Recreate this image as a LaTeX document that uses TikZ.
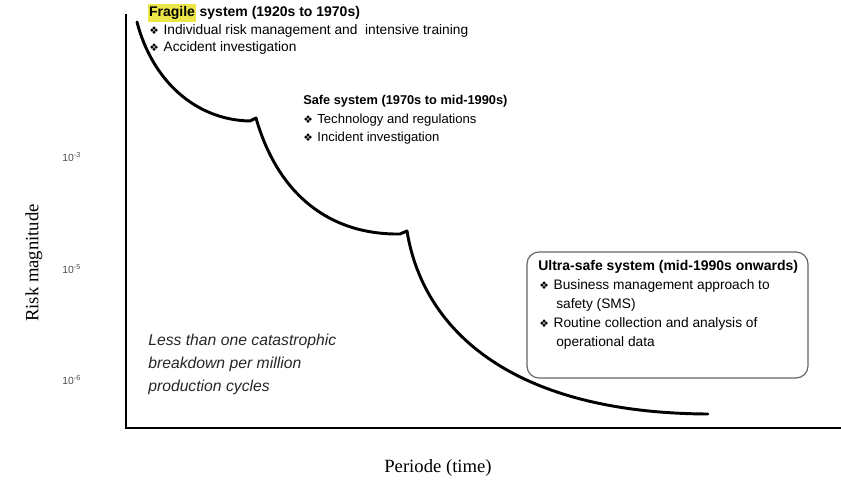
\documentclass[tikz,border=0pt]{standalone}
\usepackage{fontspec}
\setmainfont{Liberation Serif}
\setsansfont{Liberation Sans}
\newfontfamily\symfont{DejaVu Sans}
\usetikzlibrary{positioning}
\definecolor{hiliteYellow}{RGB}{236,230,72}

\newcommand{\itemMark}{{\symfont\fontsize{8}{9}\selectfont ❖}\hspace{0.35em}}
\newcommand{\hilite}[1]{{\setlength{\fboxsep}{0.6pt}\colorbox{hiliteYellow}{\strut #1}}}

\begin{document}
\begin{tikzpicture}[x=0.75pt, y=-0.75pt,
txtHead/.style={anchor=west, inner sep=0pt, font=\sffamily\bfseries\fontsize{10.5}{12}\selectfont},
txtHeadSmall/.style={txtHead, font=\sffamily\bfseries\fontsize{9.6}{11}\selectfont},
txtItem/.style={anchor=west, inner sep=0pt, font=\sffamily\fontsize{10.3}{12}\selectfont},
txtItemSmall/.style={txtItem, font=\sffamily\fontsize{9.8}{11}\selectfont},
txtTick/.style={anchor=west, inner sep=0pt, text=black!70, font=\sffamily\fontsize{7.8}{9}\selectfont},
txtNote/.style={anchor=west, inner sep=0pt, text=black!85, font=\sffamily\itshape\fontsize{11.8}{14}\selectfont},
txtAxis/.style={inner sep=0pt, font=\rmfamily\fontsize{14}{16}\selectfont},
rectEra/.style={draw=black!60, line width=0.9pt, rounded corners=9pt},
riskCurve/.style={line width=2.2pt, line cap=round, line join=round}]

\useasboundingbox (0,0) rectangle (841,486);

% axes
\draw[line width=2.2pt] (126,14) -- (126,428) -- (841,428);

\node[txtTick] (tickA) at (62,157) {10\textsuperscript{-3}};
\node[txtTick] (tickB) at (62,269) {10\textsuperscript{-5}};
\node[txtTick] (tickC) at (62,380) {10\textsuperscript{-6}};

\node[txtAxis, rotate=90] (riskLabel) at (34,263) {Risk magnitude};
\node[txtAxis] (timeLabel) at (438,468) {Periode (time)};

% risk curve
\draw[riskCurve] (137,22) .. controls (152,80) and (195,120) .. (250,121) -- (256,118)
  .. controls (278,195) and (330,235) .. (400,234) -- (407,231)
  .. controls (422,325) and (505,413) .. (708,414);

% fragile
\node[txtHead] (fragileHead) at (148,13) {\hilite{Fragile} system (1920s to 1970s)};
\node[txtItem] (fragileA) at (149,31) {\itemMark Individual risk management and\ \ intensive training};
\node[txtItem] (fragileB) at (149,48) {\itemMark Accident investigation};

% safe
\node[txtHeadSmall] (safeHead) at (303,101) {Safe system (1970s to mid-1990s)};
\node[txtItemSmall] (safeA) at (303,120) {\itemMark Technology and regulations};
\node[txtItemSmall] (safeB) at (303,138) {\itemMark Incident investigation};

% ultra-safe
\draw[rectEra] (527,252) rectangle (808,378);
\node[txtHead] (ultraHead) at (538,267) {Ultra-safe system (mid-1990s onwards)};
\node[txtItem] (ultraA) at (539,286) {\itemMark Business management approach to};
\node[txtItem] (ultraA2) at (556,305) {safety (SMS)};
\node[txtItem] (ultraB) at (539,324) {\itemMark Routine collection and analysis of};
\node[txtItem] (ultraB2) at (556,343) {operational data};

% note
\node[txtNote] (noteA) at (148,341) {Less than one catastrophic};
\node[txtNote] (noteB) at (148,364) {breakdown per million};
\node[txtNote] (noteC) at (148,387) {production cycles};

\end{tikzpicture}
\end{document}
